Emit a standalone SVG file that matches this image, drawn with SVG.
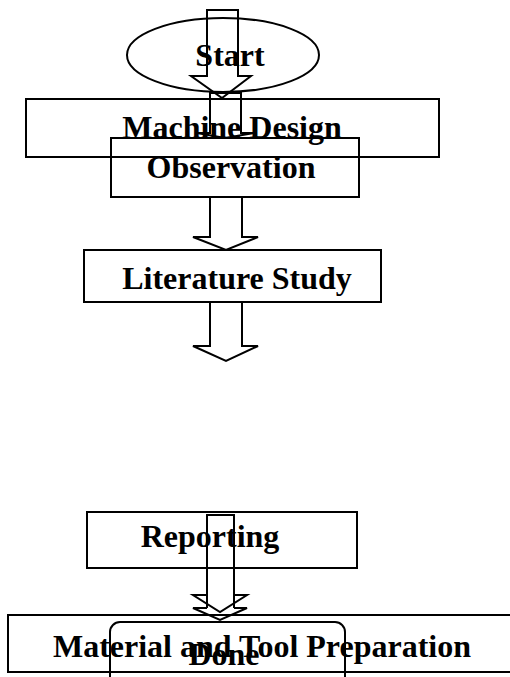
<svg xmlns="http://www.w3.org/2000/svg" width="510" height="677" viewBox="0 0 510 677">
<style>
.box{fill:none;stroke:#000;stroke-width:2}
.arr{fill:none;stroke:#000;stroke-width:2;stroke-linejoin:miter}
.t{font-family:"Liberation Serif","Times New Roman",serif;font-weight:bold;font-size:32px;text-anchor:middle;fill:#000}
</style>
<rect width="510" height="677" fill="#fff"/>
<g id="start">
<ellipse class="box" cx="223" cy="55" rx="96" ry="37"/>
<text class="t" x="230" y="66">Start</text>
</g>
<g id="machine-design">
<rect class="box" x="26" y="99" width="413" height="58"/>
<text class="t" x="232" y="138">Machine Design</text>
</g>
<g id="observation">
<rect class="box" x="111" y="138" width="248" height="59"/>
<text class="t" x="231" y="178">Observation</text>
</g>
<g id="literature-study">
<rect class="box" x="84" y="250" width="297" height="52"/>
<text class="t" x="237" y="289">Literature Study</text>
</g>
<g id="reporting">
<rect class="box" x="87" y="512" width="270" height="56"/>
<text class="t" x="210" y="547">Reporting</text>
</g>
<g id="material">
<rect class="box" x="8" y="615" width="510" height="57"/>
<text class="t" x="262" y="657">Material and Tool Preparation</text>
</g>
<g id="done">
<rect class="box" x="110" y="622" width="235" height="70" rx="10"/>
<text class="t" x="224" y="665">Done</text>
</g>
<g id="connectors">
<path class="arr" d="M207,76 V10 H238 V76 H251 L222,98 L191,76 Z"/>
<path class="arr" d="M210,133 V93 H241 V133 H254 L225,138 L197,133 Z"/>
<path class="arr" d="M210,237 V197 H242 V237 H258 L226,250 L193,237 Z"/>
<path class="arr" d="M210,346 V302 H242 V346 H258 L226,361 L193,346 Z"/>
<path class="arr" d="M207,595 V515 H234 V595 H247 L220,612 L193,595 Z"/>
<path class="arr" d="M207,608 V595 M234,608 V595 M207,608 H193 L220,620 L247,608 H234"/>
</g>
</svg>
